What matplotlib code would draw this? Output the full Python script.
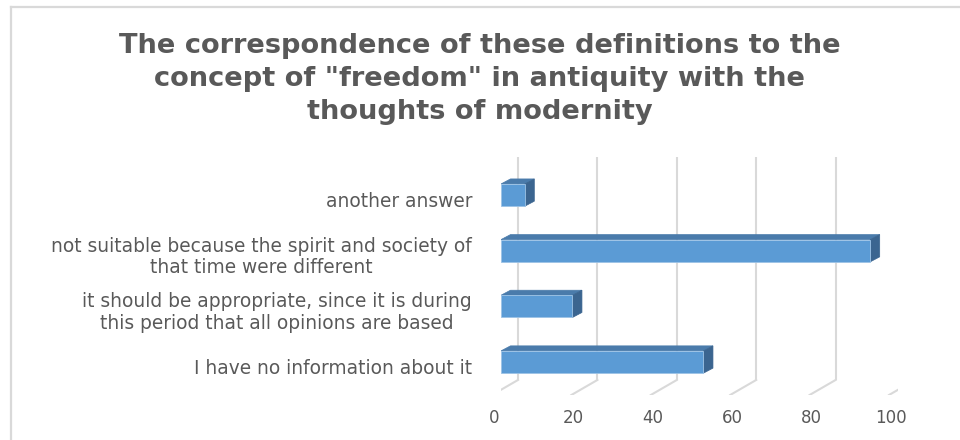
import matplotlib
matplotlib.use("Agg")
import matplotlib.pyplot as plt
from matplotlib.patches import Polygon
from matplotlib.lines import Line2D

# Survey answers, bottom to top
categories = [
    "I have no information about it",
    "it should be appropriate, since it is during\nthis period that all opinions are based",
    "not suitable because the spirit and society of\nthat time were different",
    "another answer",
]
values = [51, 18, 93, 6]
x_ticks = [0, 20, 40, 60, 80, 100]
title = ('The correspondence of these definitions to the\n'
         'concept of "freedom" in antiquity with the\n'
         'thoughts of modernity')

FRONT = "#5B9BD5"
TOP = "#4A7BAB"
SIDE = "#3B6590"
GRID = "#D9D9D9"
TEXT = "#595959"
FONT = ["DejaVu Sans"]

W, H = 960, 440
fig = plt.figure(figsize=(W / 100, H / 100), dpi=100)

# outer chart border (top and left edges visible)
fig.add_artist(Line2D([11 / W, 11 / W], [0, 1 - 7 / H], transform=fig.transFigure,
                      color=GRID, lw=1.6))
fig.add_artist(Line2D([11 / W, 1], [1 - 7 / H, 1 - 7 / H], transform=fig.transFigure,
                      color=GRID, lw=1.6))

# plot area in pixel terms: value 0 of the bar plane at x=501, 3.97 px per unit
left_px, width_px = 501, 397
bottom_px, top_px = 395, 150
ax = fig.add_axes([left_px / W, 1 - bottom_px / H, width_px / W, (bottom_px - top_px) / H])
ax.set_xlim(0, 100)
ax.set_ylim(-0.593, 3.81)
ax.axis("off")

# perspective offsets (data units)
back_dx, back_y = 4.28, -0.323     # back wall
front_dx, front_y = -2.27, -0.593  # front edge of the floor
grid_top = 3.68
depth_dx, depth_dy = 2.39, 0.09    # bar depth
bar_h = 0.40

# back-wall gridlines and floor diagonals
for v in x_ticks:
    ax.plot([v + back_dx, v + back_dx], [back_y, grid_top], color=GRID, lw=1.5,
            zorder=1, solid_capstyle="butt")
    ax.plot([v + back_dx, v + front_dx], [back_y, front_y], color=GRID, lw=1.5, zorder=1)
    ax.text(v + front_dx + 0.5, front_y - 0.42, str(v), ha="center", va="center",
            fontsize=12, color=TEXT, family=FONT, clip_on=False)

# 3D-looking bars
for i, v in enumerate(values):
    y0, y1 = i - bar_h / 2, i + bar_h / 2
    ax.add_patch(Polygon([(0, y1), (v, y1), (v + depth_dx, y1 + depth_dy),
                          (depth_dx, y1 + depth_dy)], closed=True,
                         facecolor=TOP, edgecolor=TOP, lw=0.5, zorder=3))
    ax.add_patch(Polygon([(v, y0), (v + depth_dx, y0 + depth_dy),
                          (v + depth_dx, y1 + depth_dy), (v, y1)], closed=True,
                         facecolor=SIDE, edgecolor=SIDE, lw=0.5, zorder=3))
    ax.barh(i, v, height=bar_h, left=0, color=FRONT, edgecolor="#9DC3E6",
            linewidth=0.6, zorder=4)

# category labels, right aligned, lines centred
for i, lab in enumerate(categories):
    ax.text(-29 / 3.97, i - 0.11, lab, ha="right", va="center", multialignment="center",
            fontsize=13.4, color=TEXT, family=FONT, linespacing=1.15, clip_on=False)

fig.text(0.5, 1 - 79 / H, title, ha="center", va="center", fontsize=19.6,
         fontweight="bold", color=TEXT, family=FONT, linespacing=1.33)

fig.savefig("out.png", dpi=100)
